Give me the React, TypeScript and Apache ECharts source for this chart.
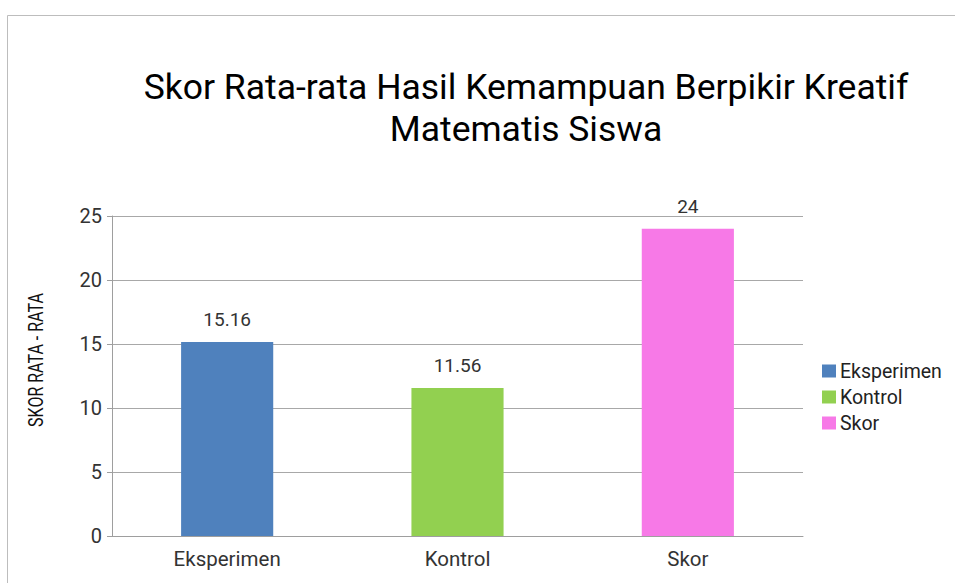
import React, { useEffect, useRef } from "react";
import * as echarts from "echarts";

const categories = ["Eksperimen", "Kontrol", "Skor"];
const seriesNames = ["Eksperimen", "Kontrol", "Skor"];
const values = [15.16, 11.56, 24];
const colors = ["#4F81BD", "#92D050", "#F779E7"];
const yTicks = { min: 0, max: 25, interval: 5 };

export default function App() {
  const ref = useRef<HTMLDivElement>(null);
  useEffect(() => {
    if (!ref.current) return;
    const chart = echarts.init(ref.current, undefined, { renderer: "svg" });
    const series = seriesNames.map((name, i) => ({
      name,
      type: "bar",
      stack: "all",
      barWidth: "40%",
      itemStyle: { color: colors[i] },
      label: {
        show: true,
        position: "top",
        distance: 13,
        color: "#333",
        fontSize: 19,
        fontFamily: "Roboto",
      },
      data: categories.map((_, j) => (j === i ? values[i] : null)),
    }));
    chart.setOption({
      animation: false,
      backgroundColor: "#fff",
      textStyle: { fontFamily: "Roboto" },
      title: {
        text: "Skor Rata-rata Hasil Kemampuan Berpikir Kreatif\nMatematis Siswa",
        left: 521,
        top: 61,
        textAlign: "center",
        textStyle: {
          fontFamily: "Roboto",
          fontSize: 35.5,
          fontWeight: "normal",
          color: "#000",
          lineHeight: 42,
        },
      },
      graphic: [
        {
          type: "rect",
          shape: { x: 7.5, y: 15.5, width: 1200, height: 1200 },
          style: { fill: "none", stroke: "#bdbdbd", lineWidth: 1 },
          silent: true,
        },
        {
          type: "text",
          x: 36,
          y: 360,
          rotation: Math.PI / 2,
          scaleX: 0.8,
          style: {
            text: "SKOR RATA - RATA",
            fill: "#111",
            font: "20px Roboto",
            align: "center",
            verticalAlign: "middle",
          },
          silent: true,
        },
      ],
      legend: {
        orient: "vertical",
        left: 817,
        top: 356,
        itemWidth: 14,
        itemHeight: 13,
        itemGap: 6,
        icon: "rect",
        textStyle: { fontFamily: "Roboto", fontSize: 19.5, color: "#222", padding: [0, 0, 0, -1] },
        data: seriesNames,
      },
      grid: { left: 112, right: 152, top: 216, bottom: 47, containLabel: false },
      xAxis: {
        type: "category",
        data: categories,
        axisLine: { lineStyle: { color: "#9e9e9e" } },
        axisTick: { show: false },
        axisLabel: { color: "#333", fontSize: 20.5, margin: 12, fontFamily: "Roboto" },
      },
      yAxis: {
        type: "value",
        min: yTicks.min,
        max: yTicks.max,
        interval: yTicks.interval,
        axisLine: { show: true, lineStyle: { color: "#9e9e9e" } },
        axisTick: { show: true, length: 5, lineStyle: { color: "#9e9e9e" } },
        axisLabel: { color: "#333", fontSize: 20, margin: 10, fontFamily: "Roboto" },
        splitLine: { lineStyle: { color: "#a8a8a8" } },
      },
      series,
    });
    return () => chart.dispose();
  }, []);
  return (
    <div
      ref={ref}
      style={{ position: "fixed", left: 0, top: 0, width: 955, height: 583 }}
    />
  );
}
